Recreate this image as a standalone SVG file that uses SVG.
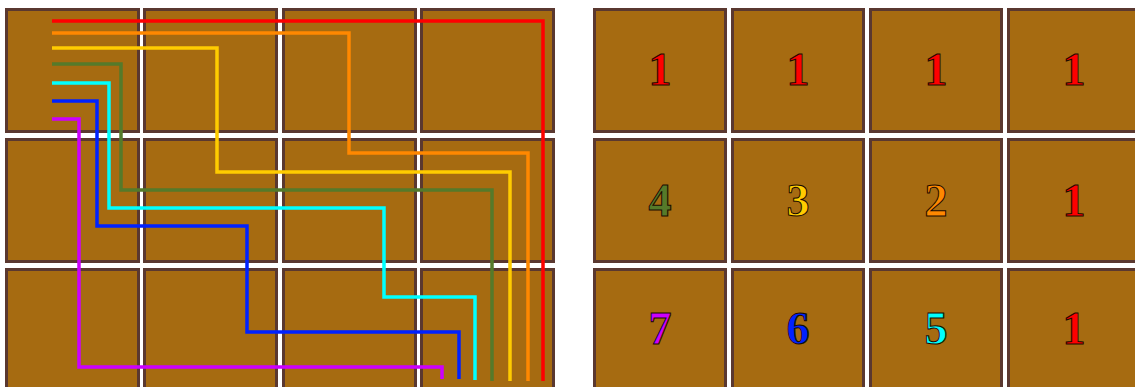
<svg xmlns="http://www.w3.org/2000/svg" width="1135" height="387" viewBox="0 0 1135 387">
<style>
.cell{fill:#a66b11;stroke:#5a3830;stroke-width:3}
.num{font-family:"Liberation Serif",serif;font-weight:bold;font-size:46px;text-anchor:middle;stroke:#1a0a00;stroke-width:1}
.ln{fill:none;stroke-width:3.5;stroke-linejoin:miter}
</style>
<rect width="1135" height="387" fill="#ffffff"/>
<g id="left-grid">
<g id="L11"><rect class="cell" x="6.5" y="9.5" width="132" height="122"/></g>
<g id="L12"><rect class="cell" x="144.5" y="9.5" width="132" height="122"/></g>
<g id="L13"><rect class="cell" x="283.5" y="9.5" width="132" height="122"/></g>
<g id="L14"><rect class="cell" x="421.5" y="9.5" width="132" height="122"/></g>
<g id="L21"><rect class="cell" x="6.5" y="139.5" width="132" height="122"/></g>
<g id="L22"><rect class="cell" x="144.5" y="139.5" width="132" height="122"/></g>
<g id="L23"><rect class="cell" x="283.5" y="139.5" width="132" height="122"/></g>
<g id="L24"><rect class="cell" x="421.5" y="139.5" width="132" height="122"/></g>
<g id="L31"><rect class="cell" x="6.5" y="269.5" width="132" height="122"/></g>
<g id="L32"><rect class="cell" x="144.5" y="269.5" width="132" height="122"/></g>
<g id="L33"><rect class="cell" x="283.5" y="269.5" width="132" height="122"/></g>
<g id="L34"><rect class="cell" x="421.5" y="269.5" width="132" height="122"/></g>
</g>
<g id="connectors">
<path class="ln" stroke="#ff0000" d="M52 21 H543 V381"/>
<path class="ln" stroke="#ff8800" d="M52 33 H349 V153 H528 V381"/>
<path class="ln" stroke="#ffcc00" d="M52 48 H217 V172 H510 V381"/>
<path class="ln" stroke="#557a2a" d="M52 64 H121 V190 H492 V381"/>
<path class="ln" stroke="#00ffff" d="M52 83 H109 V208 H384 V297 H475 V380"/>
<path class="ln" stroke="#0022ff" d="M52 101 H97 V226 H247 V332 H459 V379"/>
<path class="ln" stroke="#cc00ff" d="M52 119 H79 V367 H442 V379"/>
</g>
<g id="right-grid">
<g id="R11"><rect class="cell" x="594.5" y="9.5" width="131" height="122"/><text class="num" x="660" y="85" fill="#ff0000">1</text></g>
<g id="R12"><rect class="cell" x="732.5" y="9.5" width="131" height="122"/><text class="num" x="798" y="85" fill="#ff0000">1</text></g>
<g id="R13"><rect class="cell" x="870.5" y="9.5" width="131" height="122"/><text class="num" x="936" y="85" fill="#ff0000">1</text></g>
<g id="R14"><rect class="cell" x="1008.5" y="9.5" width="131" height="122"/><text class="num" x="1074" y="85" fill="#ff0000">1</text></g>
<g id="R21"><rect class="cell" x="594.5" y="139.5" width="131" height="122"/><text class="num" x="660" y="216" fill="#557a2a">4</text></g>
<g id="R22"><rect class="cell" x="732.5" y="139.5" width="131" height="122"/><text class="num" x="798" y="216" fill="#ffcc00">3</text></g>
<g id="R23"><rect class="cell" x="870.5" y="139.5" width="131" height="122"/><text class="num" x="936" y="216" fill="#ff8800">2</text></g>
<g id="R24"><rect class="cell" x="1008.5" y="139.5" width="131" height="122"/><text class="num" x="1074" y="216" fill="#ff0000">1</text></g>
<g id="R31"><rect class="cell" x="594.5" y="269.5" width="131" height="122"/><text class="num" x="660" y="344" fill="#cc00ff">7</text></g>
<g id="R32"><rect class="cell" x="732.5" y="269.5" width="131" height="122"/><text class="num" x="798" y="344" fill="#0022ff">6</text></g>
<g id="R33"><rect class="cell" x="870.5" y="269.5" width="131" height="122"/><text class="num" x="936" y="344" fill="#00ffff">5</text></g>
<g id="R34"><rect class="cell" x="1008.5" y="269.5" width="131" height="122"/><text class="num" x="1074" y="344" fill="#ff0000">1</text></g>
</g>
</svg>
